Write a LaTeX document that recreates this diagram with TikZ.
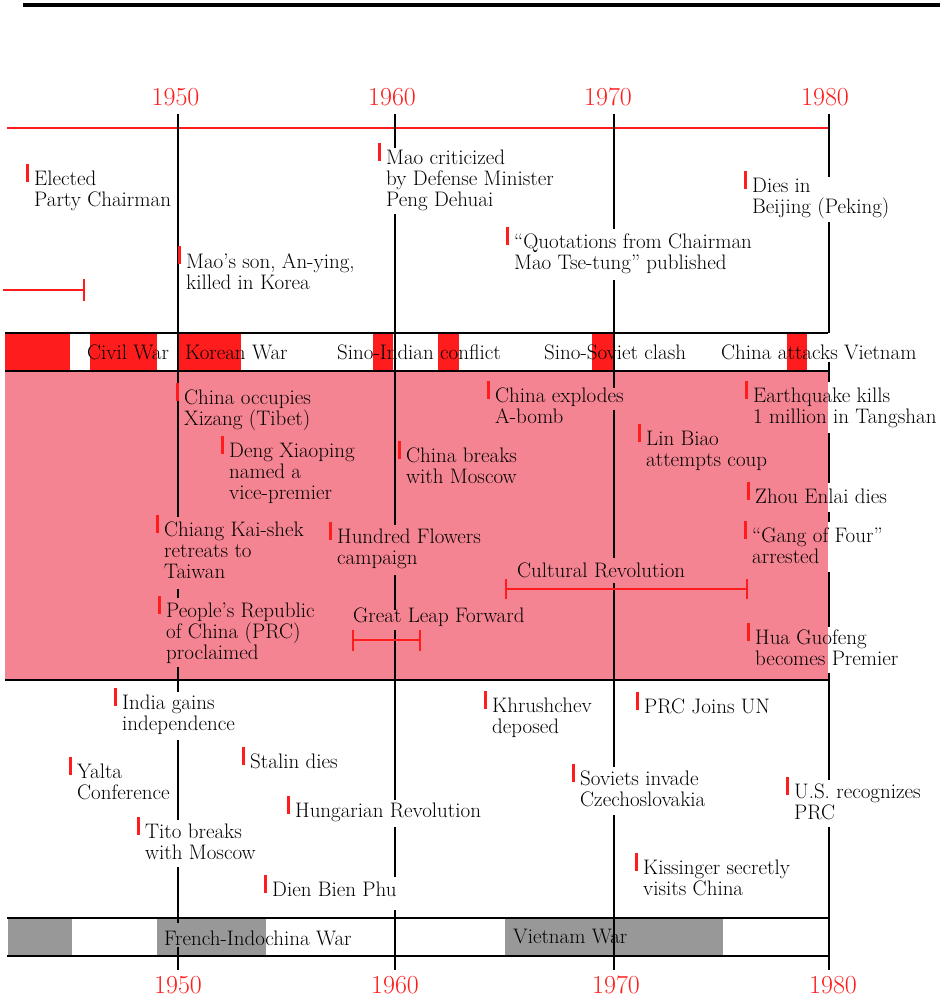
\documentclass[tikz,border=0pt]{standalone}
\usepackage{amsmath, amssymb, tikz}

\definecolor{tlred}{RGB}{255,28,28}
\definecolor{tlpink}{RGB}{245,132,146}
\definecolor{tlgray}{RGB}{152,152,152}

\begin{document}
\begin{tikzpicture}
            [x=1pt, y=-1pt,
             ev/.style={anchor=north west, align=left, inner sep=0pt, font=\fontsize{21}{21}\selectfont},
             barlabel/.style={anchor=base west, inner sep=0pt, font=\fontsize{21}{21}\selectfont},
             yearlabel/.style={anchor=base, inner sep=0pt, text=tlred, font=\fontsize{26}{26}\selectfont},
             yearline/.style={draw=black, line width=2pt},
             frame/.style={draw=black, line width=1.6pt},
             redline/.style={draw=tlred, line width=2pt},
             evtick/.style={draw=tlred, line width=2.6pt}]
            \useasboundingbox (0,0) rectangle (950,999);

            % bands
            \fill[tlpink] (5,371) rectangle (828,680);
            \foreach \xa/\xb in {5/70, 90/157, 177/241, 373/393, 438/459, 592/613, 787/807}
                \fill[tlred] (\xa,333) rectangle (\xb,371);
            \foreach \xa/\xb in {8/72, 157/266, 505/723}
                \fill[tlgray] (\xa,918) rectangle (\xb,956);
            \draw[frame] (5,333) -- (828,333);
            \draw[frame] (5,371) -- (828,371);
            \draw[frame] (5,680) -- (828,680);
            \draw[frame] (7,918) -- (830,918);
            \draw[frame] (7,956) -- (830,956);
            \draw[line width=3.5pt] (23,5) -- (940,5);

            % red time axis and bracket
            \draw[redline] (7,128) -- (828,128);
            \draw[redline] (3,290) -- (84,290);
            \draw[redline] (84,279) -- (84,301);

            % decade lines
            \foreach \ya/\yb in {114/517, 589/598, 667/692, 740/820, 867/923, 947/970}
                \draw[yearline] (177.5,\ya) -- (177.5,\yb);
            \foreach \ya/\yb in {114/148, 214/525, 575/610, 630/800, 827/877, 910/970}
                \draw[yearline] (394.5,\ya) -- (394.5,\yb);
            \foreach \ya/\yb in {114/229, 280/388, 410/558, 583/767, 815/970}
                \draw[yearline] (613.5,\ya) -- (613.5,\yb);
            \foreach \ya/\yb in {114/177, 222/333, 362/382, 433/483, 512/522, 572/627, 673/780, 827/970}
                \draw[yearline] (828.5,\ya) -- (828.5,\yb);

            \node[yearlabel] (t1950) at (175.5,105) {1950};
            \node[yearlabel] (t1960) at (392,105) {1960};
            \node[yearlabel] (t1970) at (608,105) {1970};
            \node[yearlabel] (t1980) at (825,105) {1980};
            \node[yearlabel] (b1950) at (178,993) {1950};
            \node[yearlabel] (b1960) at (395,993) {1960};
            \node[yearlabel] (b1970) at (616,993) {1970};
            \node[yearlabel] (b1980) at (833,993) {1980};

            \node[barlabel] (civil) at (87,359) {Civil War};
            \node[barlabel] (korea) at (185,359) {Korean War};
            \node[barlabel] (sinoind) at (337,359) {Sino-Indian conflict};
            \node[barlabel] (sinosov) at (544,359) {Sino-Soviet clash};
            \node[barlabel] (vietatt) at (721,359) {China attacks Vietnam};
            \node[barlabel] (french) at (164,945) {French-Indochina War};
            \node[barlabel] (vietwar) at (513,943) {Vietnam War};

            \node[ev] (elected) at (34,171) {Elected\\Party Chairman};
            \node[ev] (maoson) at (186,253) {Mao’s son, An-ying,\\killed in Korea};
            \node[ev] (critic) at (386,150) {Mao criticized\\by Defense Minister\\Peng Dehuai};
            \node[ev] (quotes) at (514,234) {“Quotations from Chairman\\Mao Tse-tung” published};
            \node[ev] (dies) at (752,178) {Dies in\\Beijing (Peking)};

            \node[ev] (tibet) at (184,390) {China occupies\\Xizang (Tibet)};
            \node[ev] (deng) at (229,443) {Deng Xiaoping\\named a\\vice-premier};
            \node[ev] (chiang) at (164,522) {Chiang Kai-shek\\retreats to\\Taiwan};
            \node[ev] (prc) at (166,603) {People’s Republic\\of China (PRC)\\proclaimed};
            \node[ev] (breaks) at (406,448) {China breaks\\with Moscow};
            \node[ev] (flowers) at (337,529) {Hundred Flowers\\campaign};
            \node[ev] (abomb) at (495,388) {China explodes\\A-bomb};
            \node[ev] (linbiao) at (646,431) {Lin Biao\\attempts coup};
            \node[ev] (quake) at (753,388) {Earthquake kills\\1 million in Tangshan};
            \node[ev] (zhou) at (755,489) {Zhou Enlai dies};
            \node[ev] (gang) at (752,528) {“Gang of Four”\\arrested};
            \node[ev] (hua) at (755,630) {Hua Guofeng\\becomes Premier};
            \node[barlabel] (leap) at (353,622) {Great Leap Forward};
            \node[barlabel] (cultrev) at (517,577) {Cultural Revolution};

            \node[ev] (india) at (122,695) {India gains\\independence};
            \node[ev] (yalta) at (77,764) {Yalta\\Conference};
            \node[ev] (stalin) at (250,754) {Stalin dies};
            \node[ev] (tito) at (145,824) {Tito breaks\\with Moscow};
            \node[ev] (hungary) at (295,803) {Hungarian Revolution};
            \node[ev] (dienbien) at (272,882) {Dien Bien Phu};
            \node[ev] (khrush) at (492,698) {Khrushchev\\deposed};
            \node[ev] (prcun) at (644,699) {PRC Joins UN};
            \node[ev] (soviets) at (580,771) {Soviets invade\\Czechoslovakia};
            \node[ev] (usprc) at (794,784) {U.S. recognizes\\PRC};
            \node[ev] (kissinger) at (643,860) {Kissinger secretly\\visits China};

            % event ticks
            \foreach \n in {elected, maoson, critic, quotes, dies, tibet, deng, chiang, prc, breaks,
                            flowers, abomb, linbiao, quake, zhou, gang, hua, india, yalta, stalin,
                            tito, hungary, dienbien, khrush, prcun, soviets, usprc, kissinger}
                \draw[evtick] ([shift={(-6.5,-7)}]\n.north west) -- ++(0,18);

            % period brackets
            \draw[redline] (353,640) -- (420,640);
            \draw[redline] (353,630) -- (353,651);
            \draw[redline] (420,630) -- (420,651);
            \draw[redline] (506,589) -- (747,589);
            \draw[redline] (506,579) -- (506,599);
            \draw[redline] (747,579) -- (747,599);
        \end{tikzpicture}
\end{document}
